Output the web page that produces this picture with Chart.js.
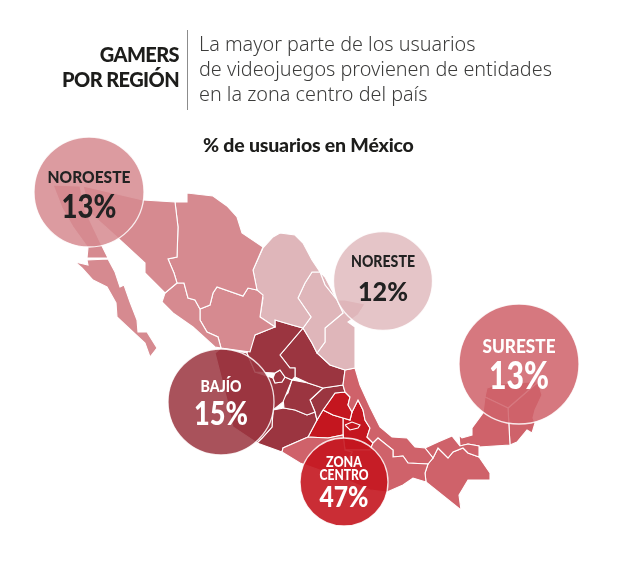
<!DOCTYPE html>
<html>
<head>
<meta charset="utf-8">
<script src="https://cdn.jsdelivr.net/npm/chart.js@4"></script>
<style>
    html, body { margin: 0; padding: 0; background: #fff; }
    canvas { display: block; }
</style>
</head>
<body>
<canvas id="mapa" width="618" height="563"></canvas>
<script>
// regiones y porcentajes
const regiones = ['NOROESTE', 'NORESTE', 'SURESTE', 'BAJÍO', 'ZONA\nCENTRO'];
const porcentajes = [13, 12, 13, 15, 47];
const centroX = [89, 383, 519, 221, 344];
const centroY = [192, 281, 364, 402, 482];
const radios = [55, 49.5, 60, 53, 44];

// contornos de los estados, en coordenadas del mapa
const bajaCalifornia = [[53,185],[80,186],[85,210],[102,246],[108,258],[87,258],[88,248],[73,227],[62,208]];
const bajaSur = [[75,262],[88,265],[87,260],[108,259],[115,272],[120,287],[124,285],[130,302],[137,320],[138,332],[147,332],[157,348],[150,357],[145,343],[133,332],[117,317],[116,303],[107,287],[93,280],[82,268]];
const sonora = [[83,186],[143,200],[175,202],[178,227],[177,257],[168,259],[174,273],[177,283],[165,293],[157,285],[145,273],[145,263],[120,240],[90,213]];
const chihuahua = [[175,202],[187,202],[187,193],[213,196],[227,206],[237,217],[242,233],[263,247],[253,270],[257,290],[248,288],[243,296],[217,287],[213,293],[210,305],[200,309],[195,300],[188,298],[184,283],[177,283],[174,273],[168,259],[177,257],[178,227]];
const sinaloa = [[165,293],[177,283],[184,283],[188,298],[195,300],[200,309],[200,320],[207,332],[218,337],[221,348],[215,347],[193,327],[173,313],[162,302]];
const durango = [[200,309],[210,305],[213,293],[217,287],[243,296],[248,288],[257,290],[263,295],[260,317],[275,327],[255,335],[250,352],[221,348],[218,337],[207,332],[200,320]];
const coahuila = [[273,237],[280,233],[295,235],[303,243],[312,260],[320,272],[312,272],[305,283],[298,298],[311,317],[303,328],[292,325],[275,320],[275,327],[260,317],[263,298],[257,290],[253,270],[263,248]];
const nuevoLeon = [[312,272],[320,272],[325,285],[337,300],[343,313],[325,328],[325,342],[317,353],[312,343],[303,328],[311,317],[298,298],[305,283]];
const tamaulipas = [[320,272],[325,277],[337,300],[345,300],[365,304],[358,315],[348,322],[355,327],[355,368],[345,370],[330,365],[317,353],[325,342],[325,328],[343,313],[337,300],[325,285]];

const zacatecas = [[275,320],[292,325],[303,328],[280,355],[290,368],[295,368],[295,377],[292,380],[285,377],[280,370],[275,373],[255,372],[247,353],[255,335],[275,327]];
const potosi = [[303,328],[312,343],[317,353],[330,365],[345,370],[343,385],[323,388],[308,383],[295,377],[295,368],[290,368],[280,355]];
const aguascalientes = [[275,373],[280,370],[285,377],[282,382],[275,383],[273,378]];
const jalisco = [[215,353],[221,348],[247,353],[255,372],[273,378],[275,383],[282,382],[285,377],[292,380],[283,402],[273,410],[272,427],[262,438],[257,443],[233,427],[227,400]];
const guanajuato = [[292,380],[308,383],[323,388],[310,400],[315,412],[307,415],[295,410],[284,408],[283,398],[288,393]];
const queretaro = [[323,388],[343,385],[345,392],[335,393],[328,403],[323,410],[317,420],[315,412],[310,400]];
const michoacan = [[273,410],[284,408],[295,410],[307,415],[315,412],[317,420],[308,437],[283,448],[282,452],[257,443],[262,438],[272,427]];

const hidalgo = [[335,393],[345,392],[350,397],[348,405],[352,412],[350,420],[343,418],[333,415],[323,410],[328,403]];
const edomex = [[323,410],[333,415],[343,418],[343,435],[328,438],[308,437],[317,420]];
const morelos = [[333,422],[340,425],[337,433],[330,430]];
const tlaxcala = [[345,425],[352,422],[360,425],[358,428],[350,430]];
const puebla = [[358,400],[363,410],[365,420],[370,428],[367,437],[373,443],[370,450],[345,450],[343,435],[343,418],[350,420],[352,412]];

const guerrero = [[282,452],[283,448],[308,437],[328,438],[343,435],[345,450],[352,452],[345,465],[342,478],[300,463]];
const oaxaca = [[345,450],[370,450],[373,443],[378,438],[393,450],[393,457],[403,456],[408,463],[428,464],[425,473],[426,482],[413,478],[403,485],[387,492],[370,490],[342,478],[345,465],[352,452]];
const veracruz = [[345,370],[355,368],[360,385],[370,407],[380,427],[392,437],[407,438],[415,447],[425,448],[433,458],[428,464],[408,463],[403,456],[393,457],[393,450],[378,438],[373,443],[367,437],[370,428],[365,420],[363,410],[358,400],[352,412],[348,405],[350,397],[345,392],[343,385]];
const tabasco = [[425,448],[438,442],[452,436],[460,446],[468,444],[479,446],[479,457],[468,453],[463,448],[453,452],[448,458],[438,448],[433,458]];
const chiapas = [[433,458],[438,448],[448,458],[453,452],[463,448],[468,453],[479,457],[490,473],[490,480],[468,480],[459,495],[461,510],[426,482],[425,473],[428,464]];
const campeche = [[459,435],[462,438],[472,435],[472,428],[483,413],[485,397],[508,408],[510,445],[479,447],[479,446],[468,444],[460,446]];
const yucatan = [[485,397],[487,388],[500,384],[530,382],[538,382],[508,408]];
const quintanaRoo = [[508,408],[538,382],[542,395],[535,410],[533,418],[535,423],[532,433],[527,430],[517,442],[510,445]];

const estadosNoroeste = [bajaCalifornia, bajaSur, sonora, chihuahua, sinaloa, durango];
const estadosNoreste = [coahuila, nuevoLeon, tamaulipas];
const estadosBajio = [zacatecas, potosi, aguascalientes, jalisco, guanajuato, queretaro, michoacan];
const estadosCentro = [hidalgo, edomex, morelos, tlaxcala, puebla];
const estadosSureste = [guerrero, oaxaca, veracruz, tabasco, chiapas, campeche, yucatan, quintanaRoo];

const colorNoroeste = '#d68a90';
const colorNoreste = '#dfb6ba';
const colorBajio = '#9b3540';
const colorCentro = '#c4161f';
const colorSureste = '#cf626a';

function datasetEstado(contorno, color) {
    const puntos = contorno.concat([contorno[0]]).map((p) => { return { x: p[0], y: p[1] } });
    return {
        type: 'scatter',
        data: puntos,
        showLine: true,
        fill: 'shape',
        backgroundColor: color,
        borderColor: '#ffffff',
        borderWidth: 1.1,
        pointRadius: 0,
        tension: 0,
        order: 1
    };
}

const datasets = [];
[[estadosNoroeste, colorNoroeste], [estadosNoreste, colorNoreste], [estadosSureste, colorSureste],
 [estadosBajio, colorBajio], [estadosCentro, colorCentro]].forEach((grupo) => {
    grupo[0].forEach((contorno) => { datasets.push(datasetEstado(contorno, grupo[1])) });
});

datasets.unshift({
    type: 'bubble',
    data: porcentajes.map((v, i) => { return { x: centroX[i], y: centroY[i], r: radios[i], v: v } }),
    backgroundColor: ['rgba(214,138,144,0.86)', 'rgba(223,182,186,0.8)', 'rgba(207,98,106,0.86)', 'rgba(155,53,64,0.86)', 'rgba(196,22,31,0.9)'],
    borderColor: 'rgba(255,255,255,0.85)',
    borderWidth: 1.3,
    order: 0
});

// textos encima del mapa
const titulo = ['GAMERS', 'POR REGIÓN'];
const subtitulo = ['La mayor parte de los usuarios', 'de videojuegos provienen de entidades', 'en la zona centro del país'];
const subtituloMapa = '% de usuarios en México';
const coloresTexto = ['#222222', '#222222', '#ffffff', '#ffffff', '#ffffff'];

// tipografia de cada burbuja: tamano, ancho y desplazamiento
const tamanoEtiqueta = [17, 16.5, 18.5, 16, 14.5];
const anchoEtiqueta = [83, 64, 73, 41, 49];
const despEtiqueta = [-14, -19, -17, -15, -7];
const tamanoNumero = [33, 27, 37, 32, 29];
const anchoNumero = [55, 50, 60, 54, 49];
const despNumero = [15, 11, 13, 13, 16];

// dibuja el texto apretado hasta el ancho pedido
function textoAngosto(ctx, texto, x, y, fuente, ancho) {
    ctx.save();
    ctx.font = fuente;
    const medida = ctx.measureText(texto).width;
    ctx.translate(x, y);
    ctx.scale(Math.min(1, ancho / medida), 1);
    ctx.fillText(texto, 0, 0);
    ctx.restore();
}

const textos = {
    id: 'textos',
    afterDatasetsDraw(chart) {
        const ctx = chart.ctx;
        const sx = chart.scales.x, sy = chart.scales.y;
        ctx.save();
        ctx.textBaseline = 'middle';

        ctx.fillStyle = '#1d1d1b';
        ctx.textAlign = 'right';
        ctx.font = '900 20px Lato';
        ctx.letterSpacing = '-0.6px';
        titulo.forEach((t, i) => { ctx.fillText(t, 179, 56 + i * 25) });

        ctx.strokeStyle = '#8c8c8c';
        ctx.lineWidth = 1;
        ctx.beginPath();
        ctx.moveTo(187.5, 30);
        ctx.lineTo(187.5, 110);
        ctx.stroke();

        ctx.textAlign = 'left';
        ctx.fillStyle = '#3c3c3b';
        ctx.font = '300 19.8px "Noto Sans"';
        ctx.letterSpacing = '0px';
        subtitulo.forEach((t, i) => { ctx.fillText(t, 199, 45 + i * 25) });

        ctx.fillStyle = '#1d1d1b';
        ctx.font = '900 19.5px Lato';
        ctx.letterSpacing = '-0.2px';
        ctx.fillText(subtituloMapa, 203, 146);

        ctx.textAlign = 'center';
        ctx.letterSpacing = '0px';
        regiones.forEach((r, i) => {
            const x = sx.getPixelForValue(centroX[i]);
            const y = sy.getPixelForValue(centroY[i]);
            const lineas = r.split('\n');
            ctx.fillStyle = coloresTexto[i];
            const fuente = '900 ' + tamanoEtiqueta[i] + 'px Lato';
            if (lineas.length > 1) {
                textoAngosto(ctx, lineas[0], x, y + despEtiqueta[i] - 13, fuente, 36);
            }
            textoAngosto(ctx, lineas[lineas.length - 1], x, y + despEtiqueta[i], fuente, anchoEtiqueta[i]);
            textoAngosto(ctx, porcentajes[i] + '%', x, y + despNumero[i], '900 ' + tamanoNumero[i] + 'px Lato', anchoNumero[i]);
        });
        ctx.restore();
    }
};

new Chart(document.getElementById('mapa'), {
    type: 'scatter',
    data: { datasets: datasets },
    options: {
        responsive: false,
        animation: false,
        events: [],
        layout: { padding: 0, autoPadding: false },
        plugins: { legend: { display: false }, tooltip: { enabled: false }, title: { display: false } },
        scales: {
            x: { type: 'linear', display: false, min: 0, max: 618 },
            y: { type: 'linear', display: false, min: 0, max: 563, reverse: true }
        }
    },
    plugins: [textos]
});
</script>
</body>
</html>
